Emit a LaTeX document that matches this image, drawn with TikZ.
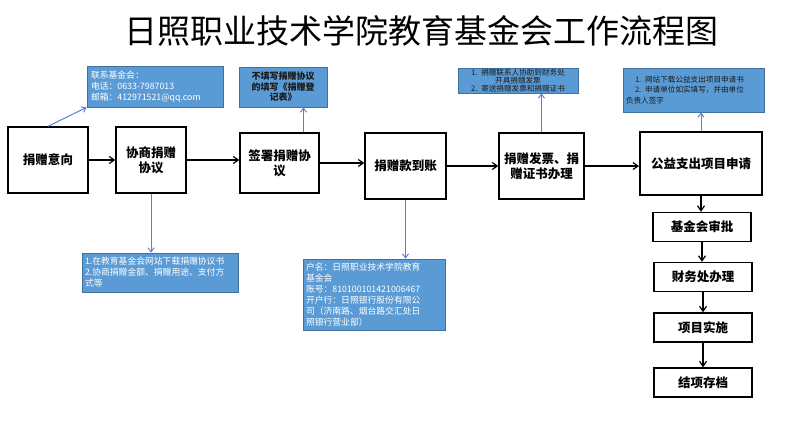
\documentclass[tikz,border=0pt]{standalone}
\usepackage{fontspec}
\setmainfont{Noto Sans CJK SC}
\usepackage{xcolor}
\usepackage{tikz}
\usetikzlibrary{arrows.meta, positioning}
\definecolor{noteblue}{HTML}{5B9BD5}
\definecolor{noteedge}{HTML}{41719C}
\definecolor{linkblue}{HTML}{5B7FD6}
\definecolor{notetext}{HTML}{1A1A1A}

\begin{document}
\begin{tikzpicture}[x=1pt, y=-1pt,
        stepbox/.style={draw, line width=1.4pt, fill=white, align=center,
                    font=\fontsize{12.5}{15}\selectfont\bfseries, inner sep=2pt},
        subbox/.style={stepbox, minimum width=98pt, minimum height=29pt},
        note/.style={draw=noteedge, line width=0.8pt, fill=noteblue, inner sep=3pt,
                    font=\fontsize{8.8}{11}\selectfont, text=white, align=left},
        darknote/.style={note, text=notetext, align=center},
        flow/.style={-{Straight Barb[length=5pt, width=7pt]}, line width=1.2pt},
        link/.style={-{Straight Barb[length=4pt, width=6pt]}, line width=1pt, draw=linkblue},
    ]
        \useasboundingbox (0,0) rectangle (800,422);

        \node[font=\fontsize{33}{36}\selectfont] (title) at (421,31) {日照职业技术学院教育基金会工作流程图};

        % main row
        \node[stepbox, minimum width=80pt, minimum height=66pt] (b1) at (48,160) {捐赠意向};
        \node[stepbox, minimum width=70pt, minimum height=66pt] (b2) at (151,160) {协商捐赠\\协议};
        \node[stepbox, minimum width=79pt, minimum height=60pt] (b3) at (279.5,163) {签署捐赠协\\议};
        \node[stepbox, minimum width=81pt, minimum height=66pt] (b4) at (405.5,166) {捐赠款到账};
        \node[stepbox, minimum width=85pt, minimum height=66pt] (b5) at (541.5,166) {捐赠发票、捐\\赠证书办理};
        \node[stepbox, line width=2pt, minimum width=122pt, minimum height=63pt] (b6) at (701,163.5) {公益支出项目申请};

        \draw[flow] (b1.east) -- (b1.east -| b2.west);
        \draw[flow] (b2.east) -- (b2.east -| b3.west);
        \draw[flow] (b3.east) -- (b3.east -| b4.west);
        \draw[flow] (b4.east) -- (b4.east -| b5.west);
        \draw[flow] (b5.east) -- (b5.east -| b6.west);

        % column under b6
        \node[subbox] (s1) at (702,227) {基金会审批};
        \node[subbox] (s2) at (703,277) {财务处办理};
        \node[subbox] (s3) at (703,327.5) {项目实施};
        \node[subbox] (s4) at (703,382.5) {结项存档};

        \draw[flow] (b6.south) -- (b6.south |- s1.north);
        \draw[flow] (s1.south) -- (s1.south |- s2.north);
        \draw[flow] (s2.south) -- (s2.south |- s3.north);
        \draw[flow] (s3.south) -- (s3.south |- s4.north);

        % notes
        \node[note, minimum width=136pt, minimum height=41pt, text width=128pt] (n1) at (155,86.5)
            {联系基金会：\\电话：0633-7987013\\邮箱：412971521@qq.com};
        \node[darknote, font=\fontsize{9}{10.5}\selectfont\bfseries, minimum width=88pt,
              minimum height=40pt, text width=82pt] (n2) at (283,87)
            {不填写捐赠协议\\的填写《捐赠登\\记表》};
        \node[darknote, font=\fontsize{7.6}{8.2}\selectfont, minimum width=120pt,
              minimum height=25pt, inner sep=0.5pt, text width=118pt] (n3) at (518,80.5)
            {1. 捐赠联系人协助到财务处\\开具捐赠发票\\2. 寄送捐赠发票和捐赠证书};
        \node[darknote, font=\fontsize{7.6}{10.5}\selectfont, align=left, minimum width=141pt,
              minimum height=44pt, text width=135pt] (n4) at (693.5,90)
            {\hspace*{9pt}1. 网站下载公益支出项目申请书\\\hspace*{9pt}2. 申请单位如实填写，并由单位\\负责人签字};
        \node[note, minimum width=156pt, minimum height=39pt, text width=150pt] (n5) at (160,272.5)
            {1.在教育基金会网站下载捐赠协议书\\2.协商捐赠金额、捐赠用途、支付方\\式等};
        \node[note, minimum width=142pt, minimum height=71pt, text width=136pt] (n6) at (374,294.5)
            {户名：日照职业技术学院教育\\基金会\\账号：810100101421006467\\开户行：日照银行股份有限公\\司（济南路、烟台路交汇处日\\照银行营业部）};

        \draw[link] (b1.north) -- (n1.south west);
        \draw[link] ([xshift=24pt]b3.north) -- ([xshift=24pt]b3.north |- n2.south);
        \draw[link] (b5.north) -- (b5.north |- n3.south);
        \draw[link] (b6.north) -- (b6.north |- n4.south);
        \draw[link] (b2.south) -- (b2.south |- n5.north);
        \draw[link] (b4.south) -- (b4.south |- n6.north);
    \end{tikzpicture}
\end{document}
